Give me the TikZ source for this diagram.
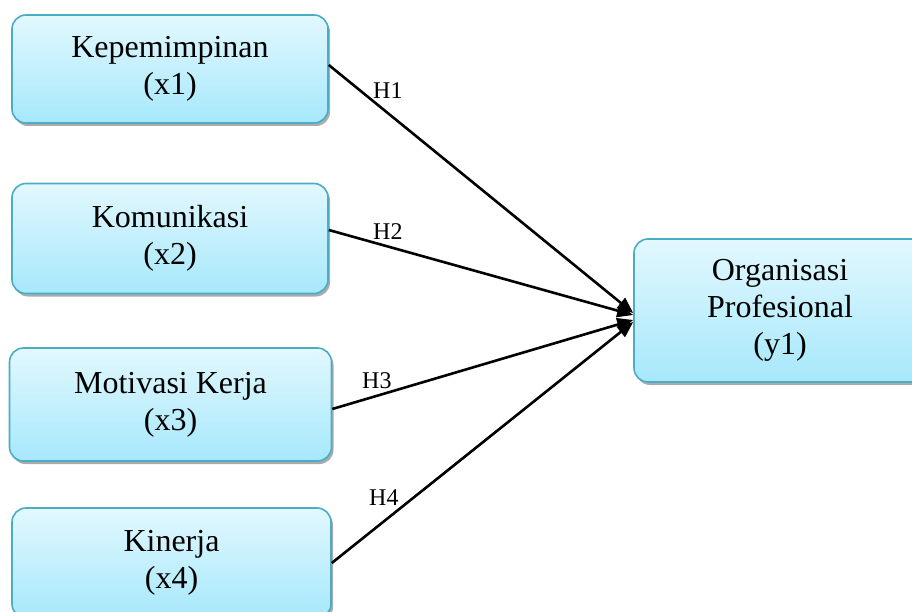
\documentclass[tikz,border=0pt]{standalone}
\usepackage{fontspec}
\setmainfont{Liberation Serif}
\usetikzlibrary{arrows.meta}
\usetikzlibrary{shadows}

\definecolor{boxtop}{RGB}{226,248,254}
\definecolor{boxbot}{RGB}{166,232,251}
\definecolor{boxline}{RGB}{75,172,198}

\tikzset{
	var/.style={draw=boxline, line width=1.6pt, rounded corners=14pt,
		top color=boxtop, bottom color=boxbot, align=center, inner sep=0pt,
		font=\fontsize{32}{37}\selectfont, minimum width=316pt, minimum height=110pt,
		drop shadow={shadow xshift=2pt, shadow yshift=-3pt, fill=black!55, opacity=.6}},
	link/.style={-{Triangle[length=16pt,width=13pt]}, line width=2.6pt},
	hyp/.style={font=\fontsize{24}{28}\selectfont, anchor=base west, inner sep=0pt}
}

\begin{document}
\begin{tikzpicture}[x=1pt,y=-1pt]
\useasboundingbox (0,0) rectangle (912,612);
	% predictors
\path
	(170,69) node[var, minimum height=108pt] (x1) {Kepemimpinan\\(x1)}
	(170,238.5) node[var] (x2) {Komunikasi\\(x2)}
	(170.5,404.5) node[var, minimum width=322pt, minimum height=113pt] (x3) {Motivasi Kerja\\(x3)}
	(171.5,563) node[var, minimum width=319pt] (x4) {Kinerja\\(x4)}
	;

	% outcome
\path
	(780,310.5) node[var, minimum width=292pt, minimum height=143pt] (y1) {Organisasi\\Profesional\\(y1)}
	;

	% hypotheses
\draw[link] ([yshift=4pt]x1.east) -- ([yshift=-2.5pt]y1.west);
\draw[link] ([yshift=8.5pt]x2.east) -- ([yshift=-4.5pt]y1.west);
\draw[link] ([yshift=-4.5pt]x3.east) -- ([yshift=-9.5pt]y1.west);
\draw[link] ([yshift=0pt]x4.east) -- ([yshift=-11.5pt]y1.west);

\path
	(373,99) node[hyp] (h1) {H1}
	(373,240) node[hyp] (h2) {H2}
	(362,388) node[hyp] (h3) {H3}
	(369,505) node[hyp] (h4) {H4}
	;
\end{tikzpicture}
\end{document}
